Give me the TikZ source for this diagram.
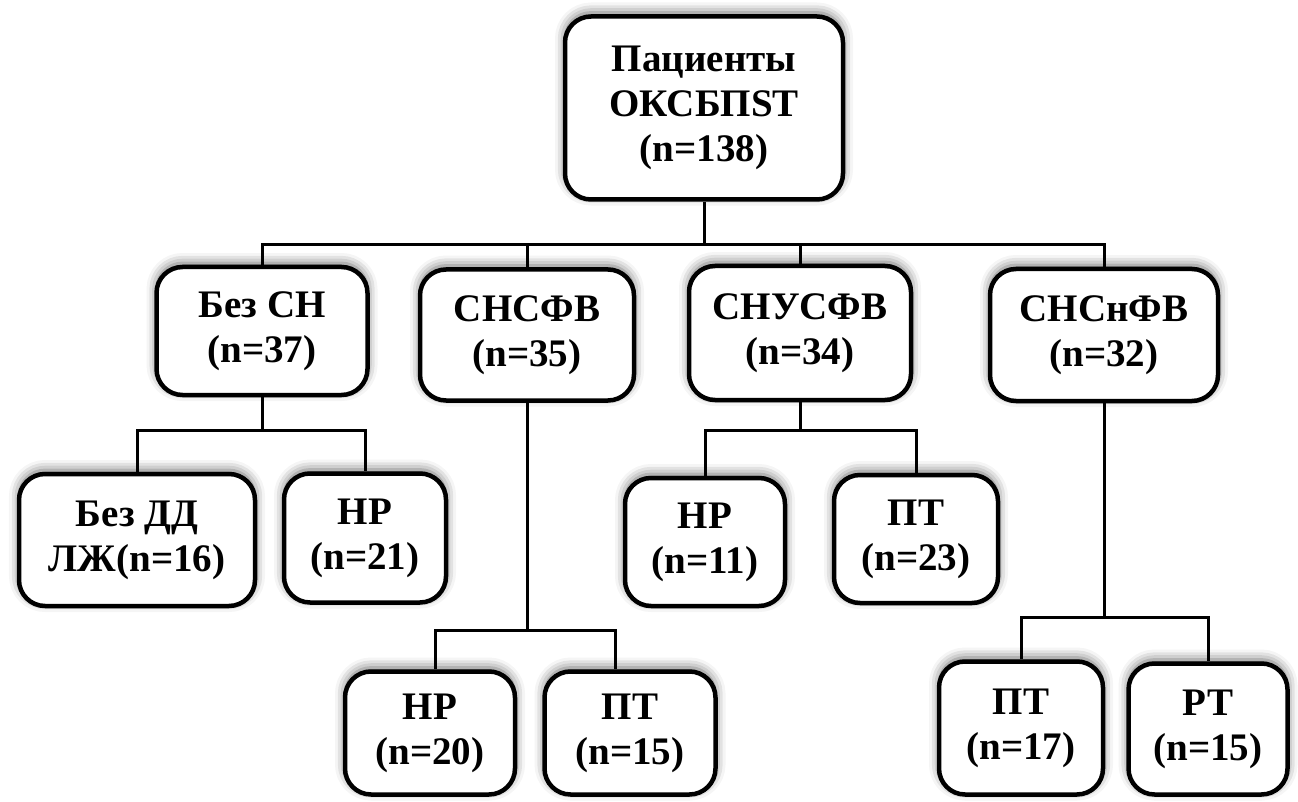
\documentclass[tikz,border=0pt]{standalone}
\usepackage{fontspec}
\setmainfont{Liberation Serif}
\usetikzlibrary{shadows.blur}

\begin{document}
\begin{tikzpicture}[x=1pt,y=-1pt,
  box/.style={draw, line width=4.5pt, rounded corners=26pt, fill=white, inner sep=0pt,
    font=\fontsize{39}{45}\selectfont\bfseries,
    blur shadow={shadow xshift=0pt, shadow yshift=4pt, shadow blur radius=10pt, shadow opacity=60}},
  size/.style 2 args={minimum width=#1, minimum height=#2},
  link/.style={line width=3pt},
  every node/.style={align=center}]

\useasboundingbox (0,0) rectangle (1298,802);

% Position the boxes at their coordinates, level by level
\node[box, size={278pt}{183pt}] (root) at (704,108) {Пациенты\\ ОКСБПST\\ (n=138)};

\node[box, size={211pt}{128pt}] (bezsn) at (262,331) {Без СН\\ (n=37)};
\node[box, size={214pt}{131pt}] (snsfv) at (527,335) {СНСФВ\\ (n=35)};
\node[box, size={222pt}{134pt}] (snusfv) at (800,333) {СНУСФВ\\ (n=34)};
\node[box, size={228pt}{132pt}] (snsnfv) at (1104,335) {СНСнФВ\\ (n=32)};

\node[box, size={236pt}{132pt}] (bezdd) at (137,540) {Без ДД\\ ЛЖ(n=16)};
\node[box, size={162pt}{129pt}] (nr21) at (365,538) {НР\\ (n=21)};
\node[box, size={160pt}{128pt}] (nr11) at (705,542) {НР\\ (n=11)};
\node[box, size={164pt}{128pt}] (pt23) at (916,539) {ПТ\\ (n=23)};

\node[box, size={170pt}{123pt}] (nr20) at (430,733) {НР\\ (n=20)};
\node[box, size={171pt}{123pt}] (pt15) at (630,733) {ПТ\\ (n=15)};
\node[box, size={164pt}{133pt}] (pt17) at (1021,728) {ПТ\\ (n=17)};
\node[box, size={159pt}{131pt}] (rt15) at (1208,729) {РТ\\ (n=15)};

% Bus lines between the levels
\path (root.south) ++(0,43) coordinate (rootbus);
\draw[link] (root.south) -- (rootbus);
\draw[link] (bezsn.north) |- (rootbus) -| (snsnfv.north);
\draw[link] (snsfv.north) -- (snsfv.north |- rootbus);
\draw[link] (snusfv.north) -- (snusfv.north |- rootbus);

\path (bezsn.south) ++(0,33) coordinate (bezsnbus);
\draw[link] (bezsn.south) -- (bezsnbus);
\draw[link] (bezdd.north) |- (bezsnbus) -| (nr21.north);

\path (snusfv.south) ++(0,28) coordinate (snusfvbus);
\draw[link] (snusfv.south) -- (snusfvbus);
\draw[link] (nr11.north) |- (snusfvbus) -| (pt23.north);

\path (snsfv.south) ++(0,228) coordinate (snsfvbus);
\draw[link] (snsfv.south) -- (snsfvbus);
\draw[link] ([xshift=5pt]nr20.north) |- (snsfvbus) -| ([xshift=-15pt]pt15.north);

\path (snsnfv.south) ++(0,214) coordinate (snsnfvbus);
\draw[link] (snsnfv.south) -- (snsnfvbus);
\draw[link] (pt17.north) |- (snsnfvbus) -| (rt15.north);

\end{tikzpicture}
\end{document}
